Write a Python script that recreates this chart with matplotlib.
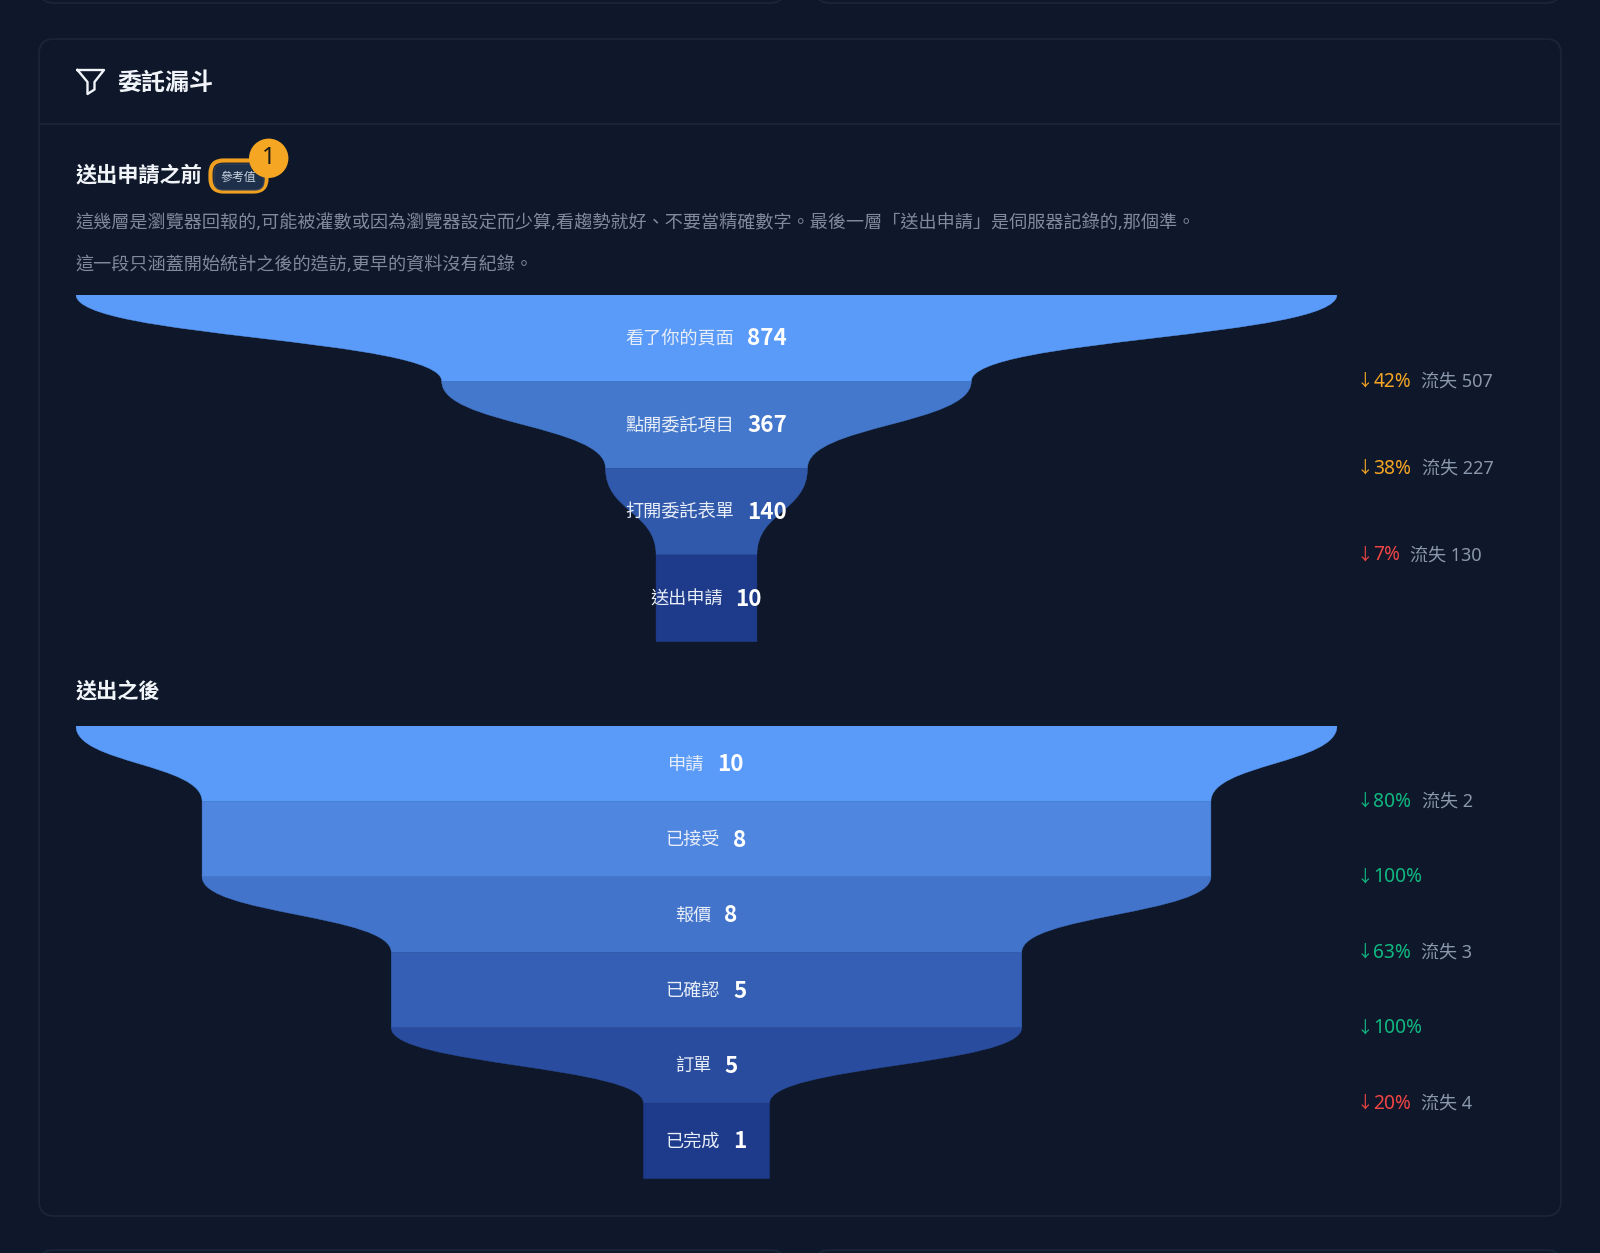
import matplotlib
matplotlib.use('Agg')
import matplotlib.pyplot as plt
from matplotlib.patches import FancyBboxPatch, PathPatch, Circle
from matplotlib.path import Path

plt.rcParams['font.family'] = ['Noto Sans', 'Noto Sans CJK TC', 'DejaVu Sans']

W, H = 1600, 1253
BG = '#0f182a'
BORDER = '#1b2639'

# first funnel
top_labels = ['看了你的頁面', '點開委託項目', '打開委託表單', '送出申請']
top_values = [874, 367, 140, 10]
top_colors = ['#5a9bf9', '#4478cc', '#3159ab', '#1e3a8a']
top_drop = ['42%', '38%', '7%']
top_lost = ['流失 507', '流失 227', '流失 130']
top_drop_colors = ['#f5a524', '#f5a524', '#ef4444']

# second funnel
low_labels = ['申請', '已接受', '報價', '已確認', '訂單', '已完成']
low_values = [10, 8, 8, 5, 5, 1]
low_colors = ['#5a9bf9', '#4f86e0', '#4274cb', '#345fb5', '#2a4c9e', '#1e3a8a']
low_drop = ['80%', '100%', '63%', '100%', '20%']
low_lost = ['流失 2', '', '流失 3', '', '流失 4']
low_drop_colors = ['#10b981', '#10b981', '#10b981', '#10b981', '#ef4444']

note1 = '這幾層是瀏覽器回報的,可能被灌數或因為瀏覽器設定而少算,看趨勢就好、不要當精確數字。最後一層「送出申請」是伺服器記錄的,那個準。'
note2 = '這一段只涵蓋開始統計之後的造訪,更早的資料沒有紀錄。'

fig = plt.figure(figsize=(W / 100, H / 100), dpi=100, facecolor=BG)
bg = fig.add_axes([0, 0, 1, 1])
bg.set_xlim(0, W)
bg.set_ylim(H, 0)
bg.axis('off')


def card(x0, y0, x1, y1):
    bg.add_patch(FancyBboxPatch((x0, y0), x1 - x0, y1 - y0,
                                boxstyle='round,pad=0,rounding_size=15',
                                fc=BG, ec=BORDER, lw=1.2))


# neighbouring cards, cut off by the edge of the picture
card(39, -60, 785, 3)
card(815, -60, 1561, 3)
card(39, 1250, 785, 1320)
card(815, 1250, 1561, 1320)
card(39, 39, 1561, 1216)
bg.plot([39, 1561], [124, 124], color=BORDER, lw=1.2)

# filter icon
icon = [(77.5, 70), (104, 70), (94.5, 82), (94.5, 89.5), (87.5, 94), (87.5, 82), (77.5, 70)]
bg.plot([p[0] for p in icon], [p[1] for p in icon], color='#f1f5f9', lw=1.7,
        solid_joinstyle='round')

bg.text(117.5, 84, '委託漏斗', color='#f1f5f9', fontsize=17.3, fontweight='bold', va='center')
bg.text(76, 176.5, '送出申請之前', color='#f1f5f9', fontsize=15.25, fontweight='bold', va='center')
bg.text(76, 692.5, '送出之後', color='#f1f5f9', fontsize=15.25, fontweight='bold', va='center')
bg.text(75, 222.5, note1, color='#7f8a9c', fontsize=13.05, va='center')
bg.text(75, 264.5, note2, color='#7f8a9c', fontsize=13.05, va='center')

# badge with the orange marker
bg.add_patch(FancyBboxPatch((210.5, 160.5), 56, 31, boxstyle='round,pad=0,rounding_size=13',
                            fc=BG, ec='#f0a020', lw=3))
bg.add_patch(FancyBboxPatch((214, 164), 50, 26, boxstyle='round,pad=0,rounding_size=9',
                            fc='#1e2f49', ec='#33435c', lw=0.8))
bg.text(238.5, 177, '參考值', color='#cbd5e1', fontsize=8.6, ha='center', va='center')
bg.add_patch(Circle((268.7, 158.3), 19.7, fc='#f5a623', ec='none', zorder=5))
bg.text(268.7, 157.5, '1', color='#1a1a1a', fontsize=17, ha='center', va='center', zorder=6)

# overlay for the text that sits on top of the funnels
fg = fig.add_axes([0, 0, 1, 1], zorder=5)
fg.patch.set_alpha(0)
fg.set_xlim(0, W)
fg.set_ylim(H, 0)
fg.axis('off')


def text_width(t):
    return t.get_window_extent(fig.canvas.get_renderer()).width


def draw_funnel(top, bottom, labels, values, colors, drops, losts, drop_colors):
    left, right = 76, 1337
    ax = fig.add_axes([left / W, 1 - bottom / H, (right - left) / W, (bottom - top) / H])
    ax.patch.set_alpha(0)
    ax.set_xlim(-values[0] / 2, values[0] / 2)
    ax.set_ylim(len(values), 0)
    ax.axis('off')

    # narrow layers never get thinner than 8% of the full width
    widths = [max(v, values[0] * 0.08) for v in values]
    for i, w in enumerate(widths):
        nxt = widths[i + 1] if i + 1 < len(widths) else w
        a, b = w / 2, nxt / 2
        verts = [(-a, i), (a, i),
                 (a, i + 0.5), (b, i + 0.5), (b, i + 1),
                 (-b, i + 1),
                 (-b, i + 0.5), (-a, i + 0.5), (-a, i),
                 (-a, i)]
        codes = [Path.MOVETO, Path.LINETO,
                 Path.CURVE4, Path.CURVE4, Path.CURVE4,
                 Path.LINETO,
                 Path.CURVE4, Path.CURVE4, Path.CURVE4,
                 Path.CLOSEPOLY]
        ax.add_patch(PathPatch(Path(verts, codes), fc=colors[i], ec=colors[i], lw=0.3))

    band = (bottom - top) / len(values)
    cx = (left + right) / 2 - 0.5
    for i, lab in enumerate(labels):
        y = top + band * (i + 0.5)
        t1 = fg.text(0, y + 1, lab, color='#e8eef8', fontsize=13.1, va='center')
        # Noto Sans has no bold here, the CJK family does
        t2 = fg.text(0, y + 1, str(values[i]), color='#ffffff', fontsize=16.2, fontweight='bold',
                     family=['Noto Sans CJK TC', 'DejaVu Sans'], va='center')
        w1, w2 = text_width(t1), text_width(t2)
        x0 = cx - (w1 + 13 + w2) / 2
        t1.set_x(x0)
        t2.set_x(x0 + w1 + 13)

    for i, d in enumerate(drops):
        y = top + band * (i + 1) + 0.5
        fg.text(1364.5, y, '↓', color=drop_colors[i], fontsize=12, ha='center', va='center')
        t = fg.text(1373.5, y, d, color=drop_colors[i], fontsize=13.8, va='center')
        if losts[i]:
            fg.text(1373.5 + text_width(t) + 10, y, losts[i], color='#8a97ad', fontsize=13, va='center')


draw_funnel(294.6, 641.7, top_labels, top_values, top_colors, top_drop, top_lost, top_drop_colors)
draw_funnel(726, 1178.6, low_labels, low_values, low_colors, low_drop, low_lost, low_drop_colors)

fig.savefig('out.png', dpi=100, facecolor=BG)
